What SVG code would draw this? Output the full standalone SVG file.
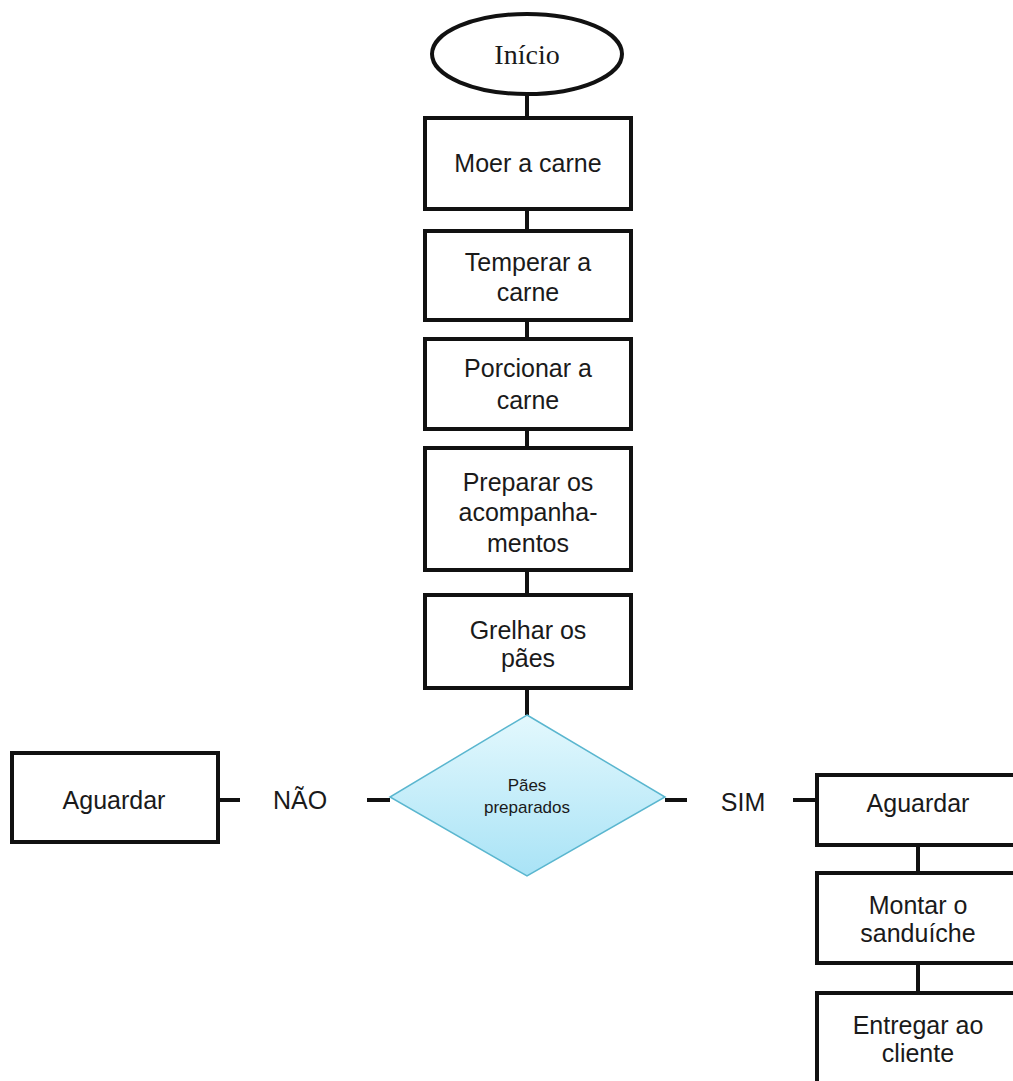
<svg xmlns="http://www.w3.org/2000/svg" width="1013" height="1081" viewBox="0 0 1013 1081">
<defs>
<linearGradient id="dg" x1="0" y1="0" x2="0" y2="1">
<stop offset="0" stop-color="#e3f8fd"/>
<stop offset="1" stop-color="#a9e3f6"/>
</linearGradient>
<style>
.box{fill:#fff;stroke:#111;stroke-width:4}
.t{font-family:"Liberation Sans",Arial,sans-serif;font-size:25px;fill:#1a1a1a;text-anchor:middle}
.ts{font-family:"Liberation Sans",Arial,sans-serif;font-size:17px;fill:#1a1a1a;text-anchor:middle}
.ser{font-family:"Liberation Serif","Times New Roman",serif;font-size:28px;fill:#1a1a1a;text-anchor:middle}
.c{stroke:#111;stroke-width:4;fill:none}
</style>
</defs>
<rect width="1013" height="1081" fill="#fff"/>
<g id="connectors">
<line class="c" x1="527" y1="95" x2="527" y2="118"/>
<line class="c" x1="527" y1="209" x2="527" y2="231"/>
<line class="c" x1="527" y1="320" x2="527" y2="339"/>
<line class="c" x1="527" y1="429" x2="527" y2="448"/>
<line class="c" x1="527" y1="570" x2="527" y2="595"/>
<line class="c" x1="527" y1="688" x2="527" y2="715"/>
<line class="c" x1="218" y1="800" x2="240" y2="800"/>
<line class="c" x1="367" y1="800" x2="390" y2="800"/>
<line class="c" x1="665" y1="800" x2="687" y2="800"/>
<line class="c" x1="793" y1="800" x2="817" y2="800"/>
<line class="c" x1="918" y1="845" x2="918" y2="873"/>
<line class="c" x1="918" y1="963" x2="918" y2="993"/>
</g>
<g id="inicio">
<ellipse cx="527" cy="54" rx="95" ry="40" fill="#fff" stroke="#111" stroke-width="4"/>
<text class="ser" x="527" y="64">Início</text>
</g>
<g id="moer">
<rect class="box" x="425" y="118" width="206" height="91"/>
<text class="t" x="528" y="172">Moer a carne</text>
</g>
<g id="temperar">
<rect class="box" x="425" y="231" width="206" height="89"/>
<text class="t" x="528" y="271">Temperar a</text>
<text class="t" x="528" y="301">carne</text>
</g>
<g id="porcionar">
<rect class="box" x="425" y="339" width="206" height="90"/>
<text class="t" x="528" y="377">Porcionar a</text>
<text class="t" x="528" y="409">carne</text>
</g>
<g id="preparar">
<rect class="box" x="425" y="448" width="206" height="122"/>
<text class="t" x="528" y="491">Preparar os</text>
<text class="t" x="528" y="521">acompanha-</text>
<text class="t" x="528" y="552">mentos</text>
</g>
<g id="grelhar">
<rect class="box" x="425" y="595" width="206" height="93"/>
<text class="t" x="528" y="639">Grelhar os</text>
<text class="t" x="528" y="667">pães</text>
</g>
<g id="decisao">
<polygon points="527,715 665,797 527,876 390,797" fill="url(#dg)" stroke="#5ab6cf" stroke-width="1.5"/>
<text class="ts" x="527" y="791">Pães</text>
<text class="ts" x="527" y="813">preparados</text>
</g>
<g id="aguardar-nao">
<rect class="box" x="12" y="753" width="206" height="89"/>
<text class="t" x="114" y="809">Aguardar</text>
</g>
<g id="label-nao">
<text class="t" x="300" y="809">NÃO</text>
</g>
<g id="label-sim">
<text class="t" x="743" y="811">SIM</text>
</g>
<g id="aguardar-sim">
<rect class="box" x="817" y="775" width="206" height="70"/>
<text class="t" x="918" y="812">Aguardar</text>
</g>
<g id="montar">
<rect class="box" x="817" y="873" width="206" height="90"/>
<text class="t" x="918" y="914">Montar o</text>
<text class="t" x="918" y="942">sanduíche</text>
</g>
<g id="entregar">
<rect class="box" x="817" y="993" width="206" height="100"/>
<text class="t" x="918" y="1034">Entregar ao</text>
<text class="t" x="918" y="1062">cliente</text>
</g>
</svg>
